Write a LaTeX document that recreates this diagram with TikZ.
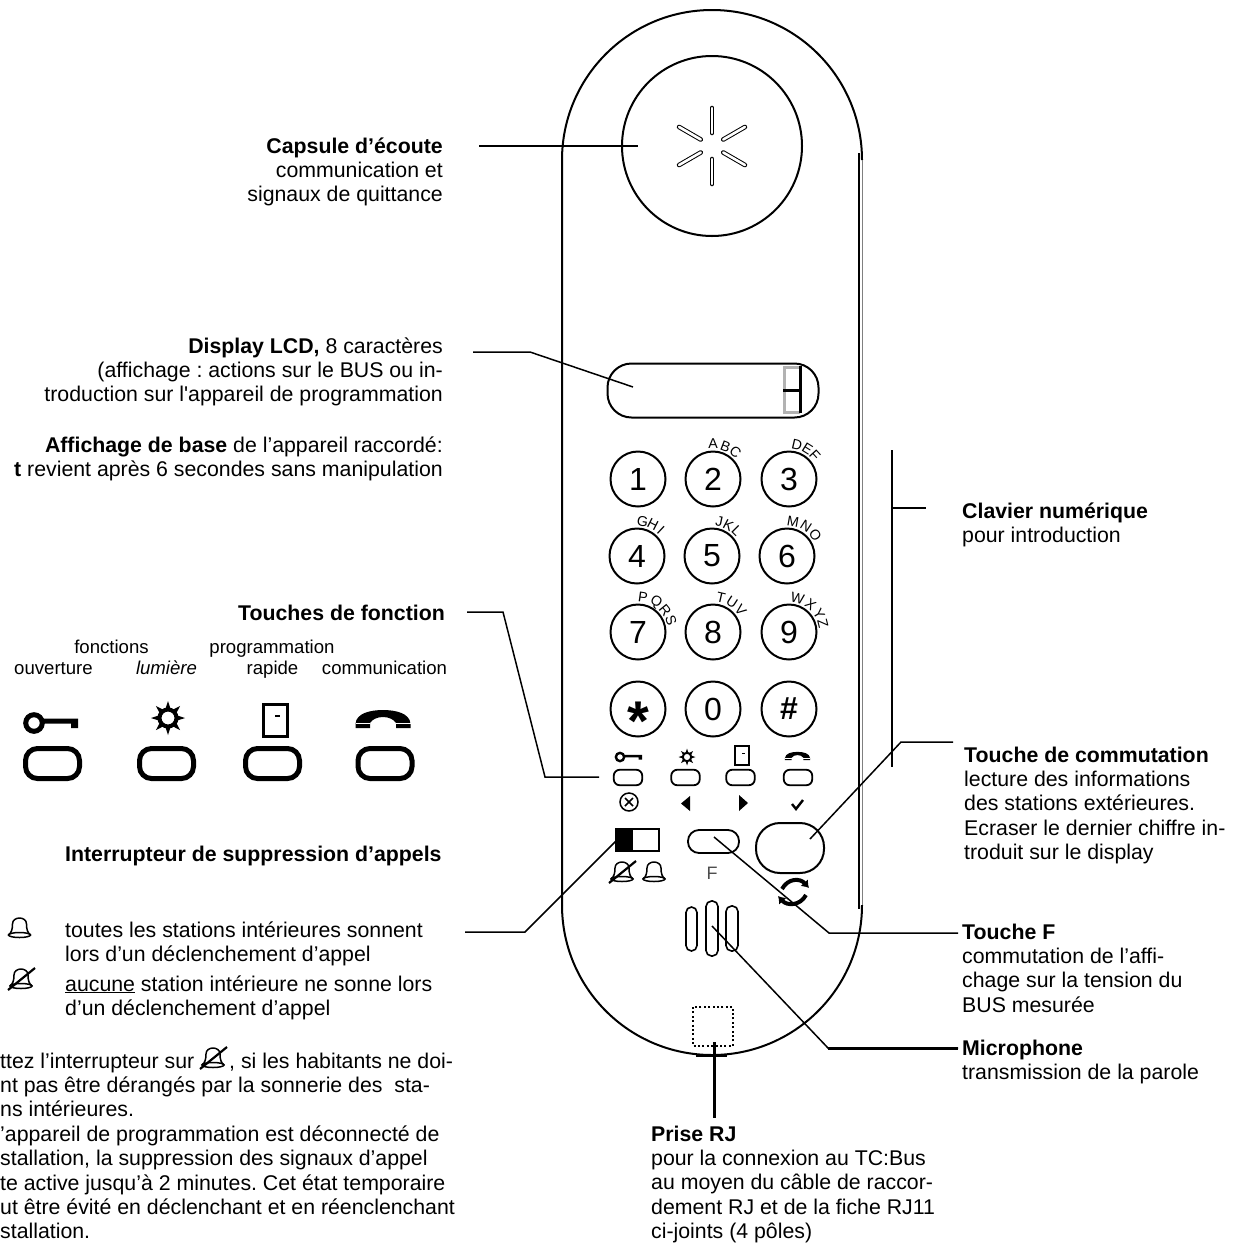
\documentclass[tikz,border=0pt]{standalone}
\usepackage{fontspec}
\setmainfont{Liberation Sans}
\newfontfamily\straightfont{Liberation Sans}
\usetikzlibrary{calc,arrows.meta}
\tikzset{
    bellsym/.pic={
        \draw (-11,0) .. controls (-8,-2) and (-7,-6) .. (-7,-11) .. controls (-7,-19) and (7,-19) .. (7,-11)
              .. controls (7,-6) and (8,-2) .. (11,0);
        \draw (0,0) ellipse (11 and 2.5);
    },
    bellcrossed/.pic={
        \pic {bellsym};
        \draw[line width=2.2pt] (-13,4) -- (14,-18);
    },
    keysym/.pic={
        \draw (0,0) circle (8.3);
        \fill (7,-4.5) rectangle (44,0.5) (37,-4.5) rectangle (44,5);
    },
    sunsym/.pic={
        \draw (0,0) circle (8.5);
        \foreach \a in {0,45,...,315}
            \fill (\a-18:9) -- (\a:17) -- (\a+18:9) -- cycle;
    },
    doorsym/.pic={
        \draw (-12,-16) rectangle (12,16);
        \fill (0,-5) rectangle (5,-3);
    },
    phonesym/.pic={
        \fill (-27.5,5) .. controls (-27,-6) and (-12,-9) .. (0,-9) .. controls (12,-9) and (27,-6) .. (27.5,5)
              -- (27.5,9) -- (13,9) -- (13,4) .. controls (8,-4) and (-8,-4) .. (-13,4) -- (-13,9) -- (-27.5,9) -- cycle;
        \draw[white,line width=1pt] (-27.5,4.5) -- (-13,4.5) (13,4.5) -- (27.5,4.5);
    },
}
\newcommand{\ringletters}[2]{
    \foreach \c/\a in {#2}
        \node[keyletter,rotate=\a-90] (let\c) at ($(key#1)+(-\a:35)$) {\c};
}
\frenchspacing
\begin{document}
\begin{tikzpicture}[x=1pt,y=-1pt]
    \tikzstyle{txt}=[inner sep=0pt,font=\fontsize{21.3}{24.4}\selectfont]
    \tikzstyle{fntxt}=[inner sep=0pt,anchor=base,font=\fontsize{18.6}{21}\selectfont]
    \tikzstyle{leader}=[line width=1.5pt,line join=miter]
    \tikzstyle{bodyline}=[line width=2pt]
    \tikzstyle{keycap}=[circle,draw,line width=2pt,minimum size=55pt,inner sep=0pt,font=\fontsize{32}{32}\selectfont]
    \tikzstyle{keyletter}=[inner sep=0pt,font=\fontsize{14.2}{15}\selectfont]
    \tikzstyle{smallbtn}=[draw,rounded corners=6pt,line width=1.8pt,minimum width=28.5pt,minimum height=15.5pt,inner sep=0pt]
    \tikzstyle{bigbtn}=[draw,rounded corners=12pt,line width=5pt,minimum width=54pt,minimum height=30pt,inner sep=0pt]
    \tikzstyle{slot}=[double,double distance=2.6pt,line width=1pt,line cap=round]
    \useasboundingbox (0,0) rectangle (1239,1243);

    % housing
    \draw[bodyline] (562,905) -- (562,160) arc (180:360:150);
    \draw[gray,line width=1pt] (862,160) -- (862,905);
    \draw[bodyline] (859,153) -- (859,909);
    \draw[bodyline] (862,905) arc (0:180:150);
    \draw[line width=3pt] (696,1055) -- (727,1055);

    % earpiece
    \node[circle,draw,line width=2pt,minimum size=180pt,inner sep=0pt] (earpiece) at (712,146) {};
    \foreach \a in {30,90,...,330}
        \draw[slot] ($(earpiece.center)+(\a:13)$) -- ($(earpiece.center)+(\a:38)$);

    % display
    \node[draw,line width=2pt,rounded corners=24pt,minimum width=211pt,minimum height=54pt,inner sep=0pt] (display) at (713,390.5) {};
    \draw[gray!60,line width=3pt] (800,367) -- (784,367) -- (784,412) -- (800,412);
    \draw[line width=3pt] (783,390) -- (801,390) (800,366) -- (800,413);

    % keypad
    \foreach \n/\x/\y/\t in {1/638/479/1,2/713/479/2,3/789/479/3,
                             4/637/556/4,5/712/556/5,6/787/556/6,
                             7/638/632/7,8/713/632/8,9/789/632/9,
                             0/713/709/0}
        \node[keycap] (key\n) at (\x,\y) {\t};
    \node[keycap] (keystar) at (638,709) {\raisebox{-31pt}[0pt][0pt]{\fontsize{56}{56}\selectfont\textbf{*}}};
    \node[keycap] (keyhash) at (789,709) {\textbf{\#}};
    \ringletters{2}{A/90,B/69,C/50}
    \ringletters{3}{D/77,E/58,F/42}
    \ringletters{4}{G/81,H/63,I/47}
    \ringletters{5}{J/78,K/62,L/45}
    \ringletters{6}{M/80,N/57,O/36}
    \ringletters{7}{P/82,Q/59,R/39,S/19}
    \ringletters{8}{T/77,U/57,V/38}
    \ringletters{9}{W/76,X/52,Y/31,Z/14}

    % function keys on the set
    \node[smallbtn] (fnA) at (628,777.5) {};
    \node[smallbtn] (fnB) at (685.5,777.5) {};
    \node[smallbtn] (fnC) at (740.5,777.5) {};
    \node[smallbtn] (fnD) at (798,777.5) {};
    \pic[scale=0.5,line width=2.4pt] at (620,757) {keysym};
    \pic[scale=0.5,line width=2pt] at (687,757) {sunsym};
    \pic[scale=0.58,line width=1.5pt] at (742,755.5) {doorsym};
    \pic[scale=0.46] at (797.5,756) {phonesym};
    \draw[line width=1.5pt] (629,802) circle (9) (625,798) -- (633,806) (633,798) -- (625,806);
    \fill (681,803.5) -- (690,796) -- (690,811) -- cycle;
    \fill (748,803) -- (739,795) -- (739,811) -- cycle;
    \draw[line width=2.4pt] (792,804) -- (796,809) -- (803,800);

    % switch, F key, changeover key
    \draw[line width=1.8pt] (616,829) rectangle (659,851);
    \fill (616,829) rectangle (633,851);
    \pic[line width=1.5pt] at (654,879) {bellsym};
    \pic[line width=1.5pt] at (622,879) {bellcrossed};
    \node[draw,line width=1.8pt,rounded corners=11pt,minimum width=51pt,minimum height=23pt,inner sep=0pt] (fkey) at (713.5,841.5) {};
    \node[inner sep=0pt,text=black!70,font=\fontsize{18}{20}\selectfont] (fletter) at (712,873) {F};
    \node[draw,line width=2pt,rounded corners=24pt,minimum width=68pt,minimum height=50pt,inner sep=0pt] (changekey) at (790,848) {};
    \draw[line width=4pt,-{Latex[length=7pt,width=10pt]}] (782,889) .. controls (788,878) and (800,878) .. (809,888);
    \draw[line width=4pt,-{Latex[length=7pt,width=10pt]}] (806,895) .. controls (800,906) and (787,906) .. (778,896);

    % microphone
    \draw[line width=1.6pt,rounded corners=5.5pt] (686,907) rectangle (697,951);
    \draw[line width=1.6pt,rounded corners=5.5pt] (706,901) rectangle (718,956);
    \draw[line width=1.6pt,rounded corners=5.5pt] (726,906) rectangle (738,951);

    % RJ socket
    \draw[line width=2pt,dash pattern=on 2pt off 2.4pt] (693,1007) rectangle (733,1046);

    % leaders
    \coordinate (capA) at (479,146);
    \coordinate (capB) at (638,146);
    \draw[leader] (capA) -- (capB);
    \coordinate (lcdA) at (473,352);
    \coordinate (lcdB) at (530,352);
    \coordinate (lcdC) at (633,387);
    \draw[leader] (lcdA) -- (lcdB) -- (lcdC);
    \coordinate (fnKeyA) at (467,612);
    \coordinate (fnKeyB) at (503,612);
    \coordinate (fnKeyC) at (545,777);
    \coordinate (fnKeyD) at (599,777);
    \draw[leader] (fnKeyA) -- (fnKeyB) -- (fnKeyC) -- (fnKeyD);
    \coordinate (swA) at (465,932);
    \coordinate (swB) at (525,932);
    \coordinate (swC) at (617,840);
    \draw[leader] (swA) -- (swB) -- (swC);
    \coordinate (padA) at (892,450);
    \coordinate (padB) at (892,767);
    \coordinate (padC) at (892,508);
    \coordinate (padD) at (926,508);
    \draw[line width=2pt] (padA) -- (padB) (padC) -- (padD);
    \coordinate (chgA) at (953,742);
    \coordinate (chgB) at (901,742);
    \coordinate (chgC) at (810,839);
    \draw[leader] (chgA) -- (chgB) -- (chgC);
    \coordinate (fkA) at (958,933);
    \coordinate (fkB) at (829,933);
    \coordinate (fkC) at (714,837);
    \draw[leader] (fkA) -- (fkB) -- (fkC);
    \coordinate (micA) at (958,1048);
    \coordinate (micB) at (828,1048);
    \coordinate (micC) at (712,926);
    \draw[leader] (micA) -- (micB) -- (micC);
    \draw[line width=3pt,line cap=butt] (micB) -- (micA);
    \coordinate (rjA) at (714.5,1042);
    \coordinate (rjB) at (714.5,1118);
    \draw[line width=3pt] (rjA) -- (rjB);

    % left texts, anchored on their last line
    \node[txt,anchor=base east,align=right] (captxt) at (443,201.8) {\textbf{Capsule d’écoute}\\communication et\\signaux de quittance};
    \node[txt,anchor=base east,align=right] (lcdtxt) at (443,401.8) {\textbf{Display LCD,} 8 caractères\\(affichage : actions sur le BUS ou in-\\troduction sur l{\straightfont '}appareil de programmation};
    \node[txt,anchor=base east,align=right] (basetxt) at (443,476.4) {\textbf{Affichage de base} de l’appareil raccordé:\\\textbf{t} revient après 6 secondes sans manipulation};
    \node[txt,anchor=base east] (fntitle) at (445,620) {\textbf{Touches de fonction}};
    \node[fntxt] (fntxtA) at (111.5,653) {fonctions};
    \node[fntxt] (fntxtB) at (272,653) {programmation};
    \node[fntxt] (fntxtC) at (53.5,674) {ouverture};
    \node[fntxt] (fntxtD) at (166.5,674) {\textit{lumière}};
    \node[fntxt] (fntxtE) at (272.5,674) {rapide};
    \node[fntxt] (fntxtF) at (384.5,674) {communication};

    % enlarged function keys
    \node[bigbtn] (bigA) at (52.5,763.5) {};
    \node[bigbtn] (bigB) at (166.5,763.5) {};
    \node[bigbtn] (bigC) at (272.5,763.5) {};
    \node[bigbtn] (bigD) at (385,763.5) {};
    \pic[line width=5pt] at (34,723) {keysym};
    \pic[line width=4pt] at (168,718) {sunsym};
    \pic[line width=3pt] at (275,720) {doorsym};
    \pic at (383,719) {phonesym};

    \node[txt,anchor=base west] (swtitle) at (65,861) {\textbf{Interrupteur de suppression d’appels}};
    \pic[line width=1.5pt] at (19.5,935) {bellsym};
    \node[txt,anchor=base west,align=left] (swtxtA) at (65,961.4) {toutes les stations intérieures sonnent\\lors d’un déclenchement d’appel};
    \pic[line width=1.5pt] at (21,986) {bellcrossed};
    \node[txt,anchor=base west,align=left] (swtxtB) at (65,1015.4) {\underline{aucune} station intérieure ne sonne lors\\d’un déclenchement d’appel};
    \pic[line width=1.5pt] at (213,1065) {bellcrossed};
    \node[txt,anchor=base west,align=left] (notetxt) at (0,1238.8) {ttez l’interrupteur sur \hspace{29pt}, si les habitants ne doi-\\nt pas être dérangés par la sonnerie des\ \ sta-\\ns intérieures.\\’appareil de programmation est déconnecté de\\stallation, la suppression des signaux d’appel\\te active jusqu’à 2 minutes. Cet état temporaire\\ut être évité en déclenchant et en réenclenchant\\stallation.};

    % right texts
    \node[txt,anchor=base west,align=left] (padtxt) at (962,542.4) {\textbf{Clavier numérique}\\pour introduction};
    \node[txt,anchor=base west,align=left] (chgtxt) at (964,859.6) {\textbf{Touche de commutation}\\lecture des informations\\des stations extérieures.\\Ecraser le dernier chiffre in-\\troduit sur le display};
    \node[txt,anchor=base west,align=left] (fktxt) at (962,1012.2) {\textbf{Touche F}\\commutation de l’affi-\\chage sur la tension du\\BUS mesurée};
    \node[txt,anchor=base west,align=left] (mictxt) at (962,1079.4) {\textbf{Microphone}\\transmission de la parole};
    \node[txt,anchor=base west,align=left] (rjtxt) at (651,1238.6) {\textbf{Prise RJ}\\pour la connexion au TC:Bus\\au moyen du câble de raccor-\\dement RJ et de la fiche RJ11\\ci-joints (4 pôles)};
\end{tikzpicture}
\end{document}
